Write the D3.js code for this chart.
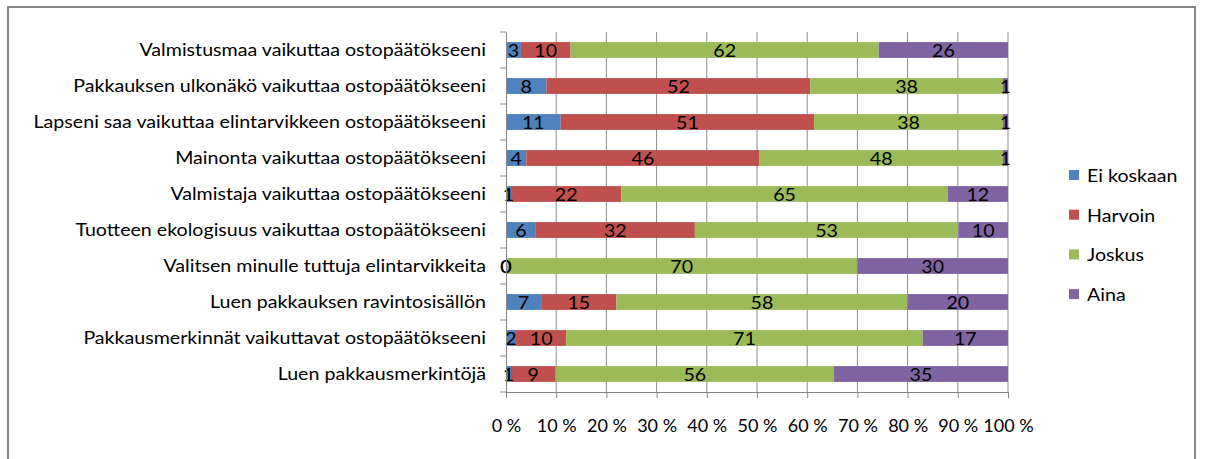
<!DOCTYPE html>
<html>
<head>
<meta charset="utf-8">
<script src="https://cdn.jsdelivr.net/npm/d3@7"></script>
<style>
  body { margin: 0; background: #fff; }
  svg { display: block; font-family: Lato, "Open Sans", sans-serif; }
</style>
</head>
<body>
<div id="chart"></div>
<script>
const categories = [
  'Valmistusmaa vaikuttaa ostopäätökseeni',
  'Pakkauksen ulkonäkö vaikuttaa ostopäätökseeni',
  'Lapseni saa vaikuttaa elintarvikkeen ostopäätökseeni',
  'Mainonta vaikuttaa ostopäätökseeni',
  'Valmistaja vaikuttaa ostopäätökseeni',
  'Tuotteen ekologisuus vaikuttaa ostopäätökseeni',
  'Valitsen minulle tuttuja elintarvikkeita',
  'Luen pakkauksen ravintosisällön',
  'Pakkausmerkinnät vaikuttavat ostopäätökseeni',
  'Luen pakkausmerkintöjä'
];
const seriesNames = ['Ei koskaan', 'Harvoin', 'Joskus', 'Aina'];
const eiKoskaan = [3, 8, 11, 4, 1, 6, 0, 7, 2, 1];
const harvoin   = [10, 52, 51, 46, 22, 32, 0, 15, 10, 9];
const joskus    = [62, 38, 38, 48, 65, 53, 70, 58, 71, 56];
const aina      = [26, 1, 1, 1, 12, 10, 30, 20, 17, 35];
const colors = ['#4F81BD', '#C0504D', '#9BBB59', '#8064A2'];
const xTicks = [0, 0.1, 0.2, 0.3, 0.4, 0.5, 0.6, 0.7, 0.8, 0.9, 1];

const W = 1205, H = 459;
const plotLeft = 506, plotRight = 1008, plotTop = 32, plotBottom = 392;
const STRETCH = 1.09; // reference font is wider than Lato

const rows = categories.map((c, i) => ({
  cat: c,
  'Ei koskaan': eiKoskaan[i],
  'Harvoin': harvoin[i],
  'Joskus': joskus[i],
  'Aina': aina[i]
}));

const stacked = d3.stack().keys(seriesNames).offset(d3.stackOffsetExpand)(rows);

const svg = d3.select('#chart').append('svg')
  .attr('width', W).attr('height', H);

// outer frame
svg.append('rect')
  .attr('x', 8).attr('y', 7)
  .attr('width', 1187).attr('height', 470)
  .attr('fill', 'none')
  .attr('stroke', '#868686')
  .attr('stroke-width', 2);

const x = d3.scaleLinear().domain([0, 1]).range([plotLeft, plotRight]);
const y = d3.scaleBand().domain(categories).range([plotTop, plotBottom]).paddingInner(0.56).paddingOuter(0.28);
const yb = d3.scaleBand().domain(categories).range([plotTop, plotBottom]);

// gridlines
svg.append('g')
  .selectAll('line')
  .data(xTicks.slice(1))
  .join('line')
  .attr('x1', d => x(d)).attr('x2', d => x(d))
  .attr('y1', plotTop).attr('y2', plotBottom)
  .attr('stroke', '#8c8c8c')
  .attr('stroke-width', 1);

// bars
const g = svg.append('g');
stacked.forEach((s, si) => {
  g.selectAll(null)
    .data(s)
    .join('rect')
    .attr('x', d => x(d[0]))
    .attr('width', d => x(d[1]) - x(d[0]))
    .attr('y', d => y(d.data.cat))
    .attr('height', y.bandwidth())
    .attr('fill', colors[si]);
});

// data labels
stacked.forEach((s, si) => {
  g.selectAll(null)
    .data(s)
    .join('text')
    .attr('class', 'wide')
    .attr('x', d => (x(d[0]) + x(d[1])) / 2)
    .attr('y', d => y(d.data.cat) + y.bandwidth() / 2)
    .attr('text-anchor', 'middle')
    .attr('dominant-baseline', 'central')
    .attr('font-size', 18)
    .attr('fill', '#000')
    .text(d => d.data[s.key]);
});

// x axis
const xAxis = svg.append('g')
  .attr('transform', `translate(0,${plotBottom})`)
  .call(d3.axisBottom(x).tickValues(xTicks).tickSize(6).tickFormat(d => Math.round(d * 100) + ' %'));
xAxis.select('.domain').attr('stroke', '#868686');
xAxis.selectAll('.tick line').attr('stroke', '#868686');
xAxis.selectAll('.tick text')
  .attr('font-size', 18)
  .attr('font-family', 'Lato, "Open Sans", sans-serif')
  .attr('fill', '#000')
  .attr('dy', 0)
  .attr('y', 40);

// y axis
const yAxis = svg.append('g')
  .attr('transform', `translate(${plotLeft},0)`)
  .call(d3.axisLeft(yb).tickSize(0).tickPadding(20));
yAxis.select('.domain').attr('stroke', '#868686');
yAxis.selectAll('.tick text')
  .attr('class', 'wide')
  .attr('font-size', 18)
  .attr('font-family', 'Lato, "Open Sans", sans-serif')
  .attr('fill', '#000');
// category boundary ticks
svg.append('g')
  .selectAll('line')
  .data(categories.concat([null]))
  .join('line')
  .attr('x1', plotLeft - 6).attr('x2', plotLeft)
  .attr('y1', d => d === null ? plotBottom : yb(d))
  .attr('y2', d => d === null ? plotBottom : yb(d))
  .attr('stroke', '#868686');

// legend
const legend = svg.append('g');
seriesNames.forEach((name, i) => {
  const ly = 175 + i * 39.7;
  legend.append('rect')
    .attr('x', 1069).attr('y', ly - 5)
    .attr('width', 10).attr('height', 10)
    .attr('fill', colors[i]);
  legend.append('text')
    .attr('class', 'wide')
    .attr('x', 1087).attr('y', ly)
    .attr('dominant-baseline', 'central')
    .attr('font-size', 18)
    .attr('fill', '#000')
    .text(name);
});

// widen category, legend and value text a little to match the reference typeface
svg.selectAll('text.wide').each(function () {
  const len = this.getComputedTextLength();
  if (len > 0) {
    d3.select(this)
      .attr('textLength', len * STRETCH)
      .attr('lengthAdjust', 'spacingAndGlyphs');
  }
});
</script>
</body>
</html>
